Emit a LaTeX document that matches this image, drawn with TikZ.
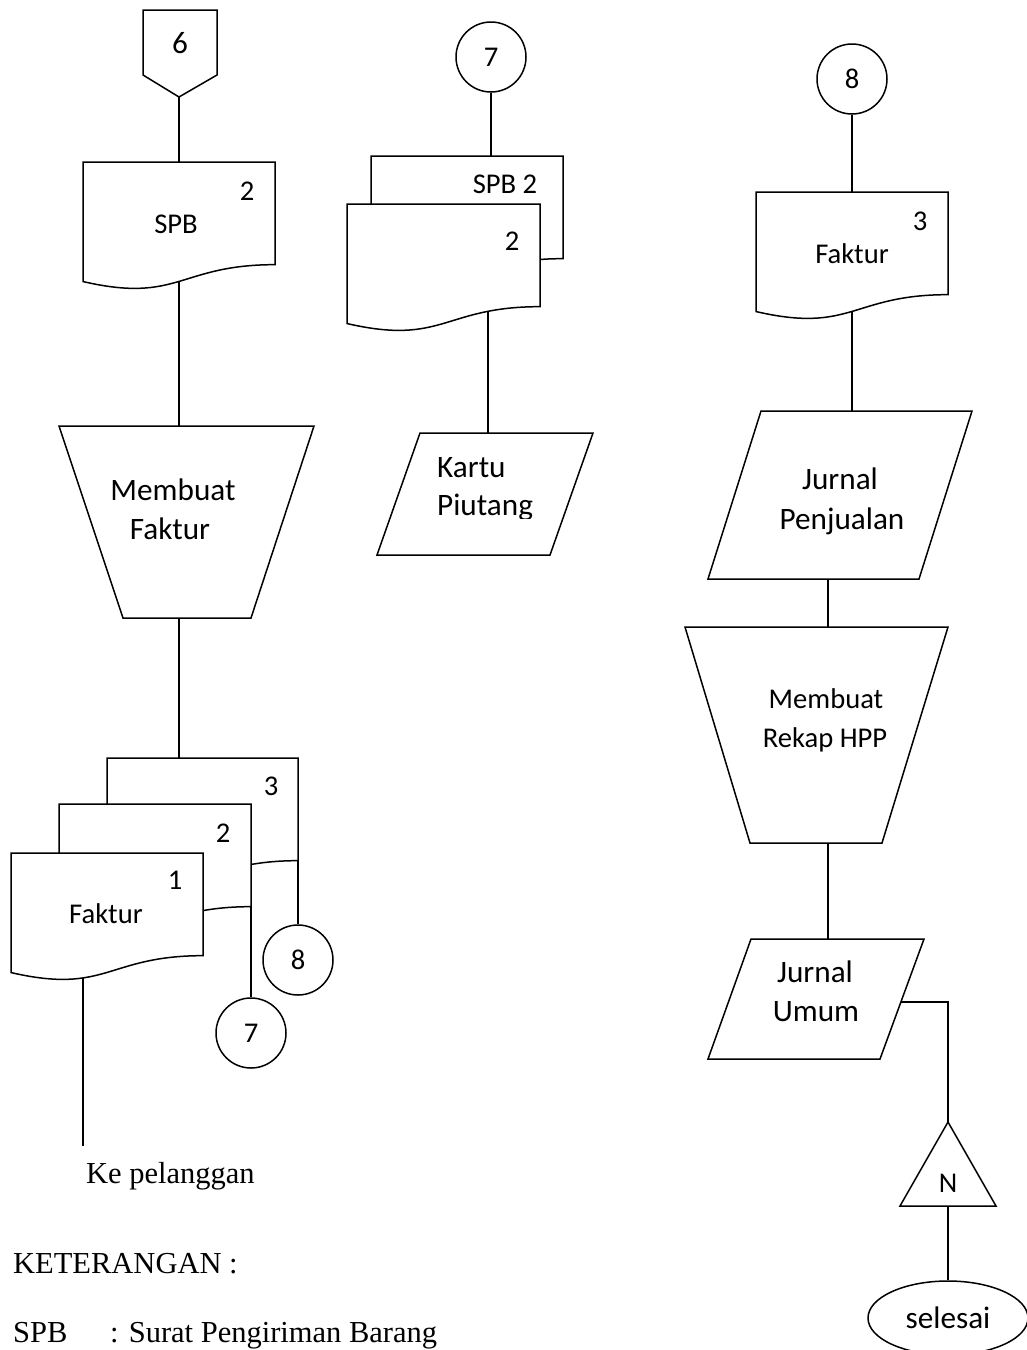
\documentclass[tikz,border=0pt]{standalone}
\usepackage{fontspec}
\setmainfont{Liberation Serif}
\newfontfamily\calibri{Carlito}
\usetikzlibrary{shapes.geometric}
\pgfdeclarelayer{links}
\pgfsetlayers{links,main}

\tikzset{
  outline/.style={draw=black, line width=1.5pt, fill=white, line join=miter},
  link/.style={draw=black, line width=1.5pt},
  lbl/.style={inner sep=0pt, anchor=base, font=\calibri\fontsize{31.2}{38}\selectfont},
  slbl/.style={inner sep=0pt, anchor=base, font=\calibri\fontsize{28.6}{36}\selectfont},
  conn/.style={circle, outline, minimum size=70pt, inner sep=0pt, font=\calibri\fontsize{28.6}{36}\selectfont},
  note/.style={inner sep=0pt, anchor=base west, font=\fontsize{30.5}{36}\selectfont},
}

% document symbol: left, top, width, height
\newcommand\docshape[4]{%
  \path[outline] (#1,#2) -- ({#1+#3},#2) -- ({#1+#3},{#2+0.802*#4})
    .. controls ({#1+0.5*#3},{#2+0.802*#4}) and ({#1+0.5*#3},{#2+1.1075*#4})
    .. (#1,{#2+0.934*#4}) -- cycle;}

\begin{document}
\begin{tikzpicture}[x=1pt, y=-1pt]
\useasboundingbox (0,0) rectangle (1027,1350);

% ---------- attachment points ----------
\coordinate (p6tip) at (179,97);
\coordinate (spbtop) at (179,162);
\coordinate (spbin) at (179,270);
\coordinate (mftop) at (179,426);
\coordinate (mfbot) at (179,618);
\coordinate (f3top) at (179,758);
\coordinate (f3r) at (298,855);
\coordinate (f2r) at (251,900);
\coordinate (f1w) at (83,960);
\coordinate (kepel) at (83,1146);
\coordinate (spbtwotop) at (491,156);
\coordinate (spbtwoin) at (488,300);
\coordinate (kptop) at (488,433);
\coordinate (fktop) at (852,192);
\coordinate (fkin) at (852,290);
\coordinate (jptop) at (852,411);
\coordinate (jpbot) at (828,579);
\coordinate (rktop) at (828,627);
\coordinate (rkbot) at (828,843);
\coordinate (jutop) at (828,939);
\coordinate (jur) at (901,1002);
\coordinate (triapex) at (948,1122);
\coordinate (tribase) at (948,1206);

% ---------- column 1 ----------
\path[outline] (143,10) -- (217,10) -- (217,75) -- (p6tip) -- (143,75) -- cycle;
\node[lbl] (t6) at (180,53) {6};

\docshape{83}{162}{192}{128}
\node[slbl] (tspbn) at (247,200) {2};
\node[slbl] (tspb) at (176,233) {SPB};

\path[outline] (59,426) -- (314,426) -- (251,618) -- (123,618) -- cycle;
\node[lbl] (tmf1) at (173,500) {Membuat};
\node[lbl] (tmf2) at (170,539) {Faktur};

\docshape{107}{758}{191}{128}
\node[slbl] (tf3) at (271,795) {3};
\docshape{59}{804}{192}{128}
\node[slbl] (tf2) at (223,842) {2};
\docshape{11}{853}{192}{128}
\node[slbl] (tf1) at (175,889) {1};
\node[slbl] (tfak) at (106,923) {Faktur};

\node[conn] (c8bot) at (298,960) {8};
\node[conn] (c7bot) at (251,1033) {7};

\node[note] (tkepel) at (86,1183) {Ke pelanggan};
\node[note] (tket) at (13,1273) {KETERANGAN :};
\node[note] (tspbk) at (13,1342) {\makebox[97pt][l]{SPB}: Surat Pengiriman Barang};

% ---------- column 2 ----------
\node[conn] (c7top) at (491,57) {7};
\docshape{371}{156}{192}{128}
\node[slbl] (tspbtwo) at (505,193) {SPB 2};
\docshape{347}{204}{193}{128}
\node[slbl] (tspbtwon) at (512,250) {2};

\path[outline] (420,433) -- (593,433) -- (550,555) -- (377,555) -- cycle;
\begin{scope}
  \clip (377,420) rectangle (600,518);
  \node[lbl, anchor=base west] (tkp1) at (437,477) {Kartu};
  \node[lbl, anchor=base west] (tkp2) at (437,515) {Piutang};
\end{scope}

% ---------- column 3 ----------
\node[conn] (c8top) at (852,79) {8};
\docshape{756}{192}{192}{128}
\node[slbl] (tfk3) at (920,230) {3};
\node[slbl] (tfk) at (852,263) {Faktur};

\path[outline] (761,411) -- (972,411) -- (919,579) -- (708,579) -- cycle;
\node[lbl] (tjp1) at (840,489) {Jurnal};
\node[lbl] (tjp2) at (842,529) {Penjualan};

\path[outline] (685,627) -- (948,627) -- (882,843) -- (750,843) -- cycle;
\node[slbl] (trk1) at (826,708) {Membuat};
\node[slbl] (trk2) at (825,747) {Rekap HPP};

\path[outline] (751,939) -- (924,939) -- (880,1059) -- (708,1059) -- cycle;
\node[lbl] (tju1) at (815,982) {Jurnal};
\node[lbl] (tju2) at (816,1021) {Umum};

\path[outline] (triapex) -- (996,1206) -- (900,1206) -- cycle;
\node[slbl] (tn) at (948,1192) {N};

\node[ellipse, outline, minimum width=160pt, minimum height=74pt, inner sep=0pt,
      font=\calibri\fontsize{31.2}{38}\selectfont] (selesai) at (948,1318) {selesai};

% ---------- connectors ----------
\begin{pgfonlayer}{links}
  \draw[link] (p6tip) -- (spbtop);
  \draw[link] (spbin) -- (mftop);
  \draw[link] (mfbot) -- (f3top);
  \draw[link] (f3r) -- (c8bot.north);
  \draw[link] (f2r) -- (c7bot.north);
  \draw[link] (f1w) -- (kepel);
  \draw[link] (c7top.south) -- (spbtwotop);
  \draw[link] (spbtwoin) -- (kptop);
  \draw[link] (c8top.south) -- (fktop);
  \draw[link] (fkin) -- (jptop);
  \draw[link] (jpbot) -- (rktop);
  \draw[link] (rkbot) -- (jutop);
  \draw[link] (jur) -| (triapex);
  \draw[link] (tribase) -- (selesai.north);
\end{pgfonlayer}
\end{tikzpicture}
\end{document}
